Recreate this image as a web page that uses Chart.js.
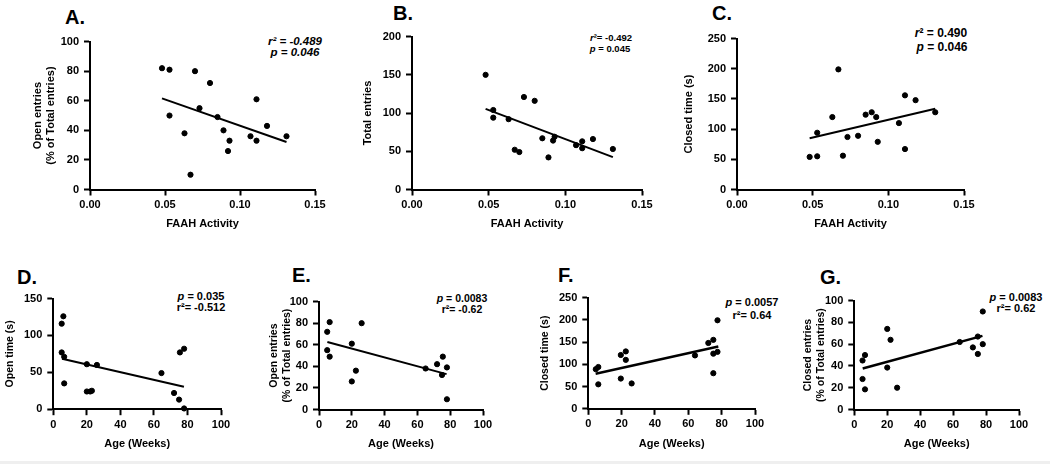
<!DOCTYPE html>
<html>
<head>
<meta charset="utf-8">
<script src="https://cdn.jsdelivr.net/npm/chart.js@4.4.1/dist/chart.umd.min.js"></script>
<style>
  body { margin: 0; background: #fff; width: 1050px; height: 464px; position: relative; overflow: hidden;
         font-family: "Liberation Sans", Arial, sans-serif; color: #000; }
  canvas { position: absolute; }
  .lbl { position: absolute; font-weight: bold; font-size: 20px; line-height: 20px; transform: translateY(-50%); }
  .stat { position: absolute; font-weight: bold; white-space: nowrap; line-height: 1; transform: translate(-50%, -50%); }
  .edge { position: absolute; left: 0; top: 461px; width: 1050px; height: 3px; background: #efefef; }
</style>
</head>
<body>
<div class="lbl" style="left:65px;top:17px">A.</div>
<div class="lbl" style="left:393px;top:13px">B.</div>
<div class="lbl" style="left:712px;top:13px">C.</div>
<div class="lbl" style="left:17px;top:277px">D.</div>
<div class="lbl" style="left:292px;top:275px">E.</div>
<div class="lbl" style="left:558px;top:275px">F.</div>
<div class="lbl" style="left:820px;top:277px">G.</div>

<div class="stat" style="left:295px;top:42px;font-size:11.5px;font-style:italic">r² = -0.489</div>
<div class="stat" style="left:295px;top:53px;font-size:11.5px;font-style:italic">p = 0.046</div>
<div class="stat" style="left:611px;top:38px;font-size:9.5px"><i>r</i>²= -0.492</div>
<div class="stat" style="left:610px;top:49px;font-size:9.5px"><i>p</i> = 0.045</div>
<div class="stat" style="left:941px;top:33px;font-size:12px"><i>r</i>² = 0.490</div>
<div class="stat" style="left:942px;top:47px;font-size:12px"><i>p</i> = 0.046</div>
<div class="stat" style="left:201px;top:296px;font-size:11px"><i>p</i> = 0.035</div>
<div class="stat" style="left:201px;top:307px;font-size:11px">r²= -0.512</div>
<div class="stat" style="left:462px;top:298px;font-size:10.5px"><i>p</i> = 0.0083</div>
<div class="stat" style="left:462px;top:309px;font-size:10.5px">r²= -0.62</div>
<div class="stat" style="left:752px;top:302px;font-size:11px"><i>p</i> = 0.0057</div>
<div class="stat" style="left:752px;top:315px;font-size:11px">r²= 0.64</div>
<div class="stat" style="left:1016px;top:297px;font-size:11px"><i>p</i> = 0.0083</div>
<div class="stat" style="left:1016px;top:308px;font-size:11px">r²= 0.62</div>
<div class="edge"></div>

<script>
// FAAH activity, same animals in A, B and C
var faah = [0.048, 0.053, 0.053, 0.063, 0.067, 0.070, 0.073, 0.080, 0.085, 0.089, 0.092, 0.093, 0.107, 0.111, 0.111, 0.118, 0.131];
var openEntriesA = [82, 81, 50, 38, 10, 80, 55, 72, 49, 40, 26, 33, 36, 61, 33, 43, 36];
var totalEntriesB = [150, 104, 94, 92, 52, 49, 121, 116, 67, 42, 64, 69, 58, 63, 54, 66, 53];
var closedTimeC = [54, 55, 94, 120, 199, 56, 87, 89, 124, 128, 120, 79, 110, 67, 156, 148, 128];

// age (weeks) panels
var ageD = [5, 6, 5, 6.5, 6.5, 20, 26, 20, 22, 23, 64.5, 72, 75, 75.5, 78, 78];
var openTimeD = [116, 126, 77, 71, 35, 61, 60, 24, 24, 25, 49, 22, 13, 77, 82, 1];
var ageE = [5, 6.5, 5, 6.5, 20, 20, 22.5, 26, 65, 72, 75.5, 75, 78, 78];
var openEntriesE = [72, 81, 55, 49, 61, 26, 36, 80, 38, 42, 49, 32, 39, 9.5];
var ageF = [4.5, 6, 6, 19.5, 22.5, 22.5, 19.5, 26, 64, 72, 75, 75, 75, 77.5, 77.5];
var closedTimeF = [89, 94, 55, 121, 129, 110, 68, 57, 120, 148, 155, 124, 80, 128, 199];
var ageG = [5, 6.5, 5, 6.5, 20, 22, 20, 26, 64, 72, 75, 75, 78, 78];
var closedEntriesG = [45, 50, 28, 18.5, 74, 64, 38.5, 20, 62, 57, 67, 51, 60, 90];

// regression lines (start / end)
var fitFaah = [0.048, 0.131];
var fitA = [61.6, 32.1];
var fitB = [105.4, 42.3];
var fitC = [85, 133.8];
var fitAgeD = [5.2, 77.9], fitD = [68.5, 30.5];
var fitAgeE = [5.1, 77.8], fitE = [62.6, 32.8];
var fitAgeF = [4.4, 78], fitF = [78.9, 139.9];
var fitAgeG = [5.1, 77.8], fitG = [37.6, 67.6];

// tick labels
var faahTicks = [0, 0.05, 0.10, 0.15];
var ageTicks = [0, 20, 40, 60, 80, 100];
var pctTicks = [0, 20, 40, 60, 80, 100];
var totalTicks = [0, 50, 100, 150, 200];
var closedTicks = [0, 50, 100, 150, 200, 250];
var openTimeTicks = [0, 50, 100, 150];

Chart.defaults.font.family = '"Liberation Sans", Arial, sans-serif';
Chart.defaults.color = '#000';

var PAD_TOP = 10, PAD_RIGHT = 20;

function pts(xs, ys) {
    return xs.map(function (v, i) { return { x: v, y: ys[i] }; });
}

function makePanel(p) {
    var lhY = Math.round(p.yFont * 1.2);
    var lhX = 13;
    var cl = Math.round(p.titleX - lhY / 2);
    var ct = Math.round(p.box[1] - PAD_TOP);
    var yW = p.box[0] - cl;
    var xH = p.xTitleY + lhX / 2 - p.box[3];
    var w = Math.round(p.box[2] + PAD_RIGHT - cl);
    var h = Math.round(p.box[3] + xH - ct);

    var cv = document.createElement('canvas');
    cv.width = w;
    cv.height = h;
    cv.style.left = cl + 'px';
    cv.style.top = ct + 'px';
    document.body.appendChild(cv);

    var axisGrid = { drawOnChartArea: false, drawTicks: true, tickLength: 6, tickColor: '#000', tickWidth: 2 };
    var axisBorder = { color: '#000', width: 2 };

    new Chart(cv, {
        type: 'scatter',
        data: {
            datasets: [{
                data: pts(p.x, p.y),
                backgroundColor: '#000',
                borderColor: '#000',
                pointRadius: 2.6,
                pointHoverRadius: 2.6,
                clip: false
            }, {
                data: pts(p.fitX, p.fitY),
                showLine: true,
                borderColor: '#000',
                borderWidth: p.lw,
                pointRadius: 0,
                fill: false,
                clip: false
            }]
        },
        options: {
            responsive: false,
            animation: false,
            events: [],
            layout: { padding: { top: PAD_TOP, right: PAD_RIGHT, left: 0, bottom: 0 } },
            plugins: { legend: { display: false }, tooltip: { enabled: false } },
            scales: {
                x: {
                    type: 'linear',
                    min: p.xTicks[0],
                    max: p.xTicks[p.xTicks.length - 1],
                    afterBuildTicks: function (s) { s.ticks = p.xTicks.map(function (v) { return { value: v }; }); },
                    afterFit: function (s) { s.height = xH; },
                    grid: axisGrid,
                    border: axisBorder,
                    ticks: {
                        color: '#000', font: { size: 11, weight: 'bold' }, padding: 3,
                        maxRotation: 0, autoSkip: false, callback: p.xFmt
                    },
                    title: { display: true, text: p.xTitle, color: '#000', padding: 0,
                             font: { size: 11, weight: 'bold', lineHeight: lhX / 11 } }
                },
                y: {
                    type: 'linear',
                    min: p.yTicks[0],
                    max: p.yTicks[p.yTicks.length - 1],
                    afterBuildTicks: function (s) { s.ticks = p.yTicks.map(function (v) { return { value: v }; }); },
                    afterFit: function (s) { s.width = yW; },
                    grid: axisGrid,
                    border: axisBorder,
                    ticks: { color: '#000', font: { size: 11, weight: 'bold' }, padding: 5, autoSkip: false },
                    title: { display: true, text: p.yTitle, color: '#000', padding: 0,
                             font: { size: p.yFont, weight: 'bold', lineHeight: lhY / p.yFont } }
                }
            }
        }
    });
}

var fmtFaah = function (v) { return v.toFixed(2); };
var fmtAge = function (v) { return v; };

makePanel({ box: [90, 39.5, 315, 189], titleX: 37, yFont: 11, xTitleY: 223,
    x: faah, y: openEntriesA, fitX: fitFaah, fitY: fitA, lw: 2,
    xTicks: faahTicks, yTicks: pctTicks, xFmt: fmtFaah,
    xTitle: 'FAAH Activity', yTitle: ['Open entries', '(% of Total entries)'] });

makePanel({ box: [412, 34.5, 642, 189], titleX: 367, yFont: 11, xTitleY: 223,
    x: faah, y: totalEntriesB, fitX: fitFaah, fitY: fitB, lw: 2,
    xTicks: faahTicks, yTicks: totalTicks, xFmt: fmtFaah,
    xTitle: 'FAAH Activity', yTitle: 'Total entries' });

makePanel({ box: [737, 36.7, 964, 189], titleX: 688, yFont: 11, xTitleY: 223,
    x: faah, y: closedTimeC, fitX: fitFaah, fitY: fitC, lw: 2,
    xTicks: faahTicks, yTicks: closedTicks, xFmt: fmtFaah,
    xTitle: 'FAAH Activity', yTitle: 'Closed time (s)' });

makePanel({ box: [53.3, 297, 221, 408.7], titleX: 10, yFont: 10.5, xTitleY: 443,
    x: ageD, y: openTimeD, fitX: fitAgeD, fitY: fitD, lw: 2,
    xTicks: ageTicks, yTicks: openTimeTicks, xFmt: fmtAge,
    xTitle: 'Age (Weeks)', yTitle: 'Open time (s)' });

makePanel({ box: [319, 300.3, 482.7, 409], titleX: 274, yFont: 10.5, xTitleY: 443,
    x: ageE, y: openEntriesE, fitX: fitAgeE, fitY: fitE, lw: 2,
    xTicks: ageTicks, yTicks: pctTicks, xFmt: fmtAge,
    xTitle: 'Age (Weeks)', yTitle: ['Open entries', '(% of Total entries)'] });

makePanel({ box: [588.3, 296.3, 755, 408.3], titleX: 545, yFont: 10.5, xTitleY: 443,
    x: ageF, y: closedTimeF, fitX: fitAgeF, fitY: fitF, lw: 2.5,
    xTicks: ageTicks, yTicks: closedTicks, xFmt: fmtAge,
    xTitle: 'Age (Weeks)', yTitle: 'Closed time (s)' });

makePanel({ box: [854.3, 299, 1019.3, 409], titleX: 808, yFont: 10.5, xTitleY: 443,
    x: ageG, y: closedEntriesG, fitX: fitAgeG, fitY: fitG, lw: 2.5,
    xTicks: ageTicks, yTicks: pctTicks, xFmt: fmtAge,
    xTitle: 'Age (Weeks)', yTitle: ['Closed entries', '(% of Total entries)'] });
</script>
</body>
</html>
